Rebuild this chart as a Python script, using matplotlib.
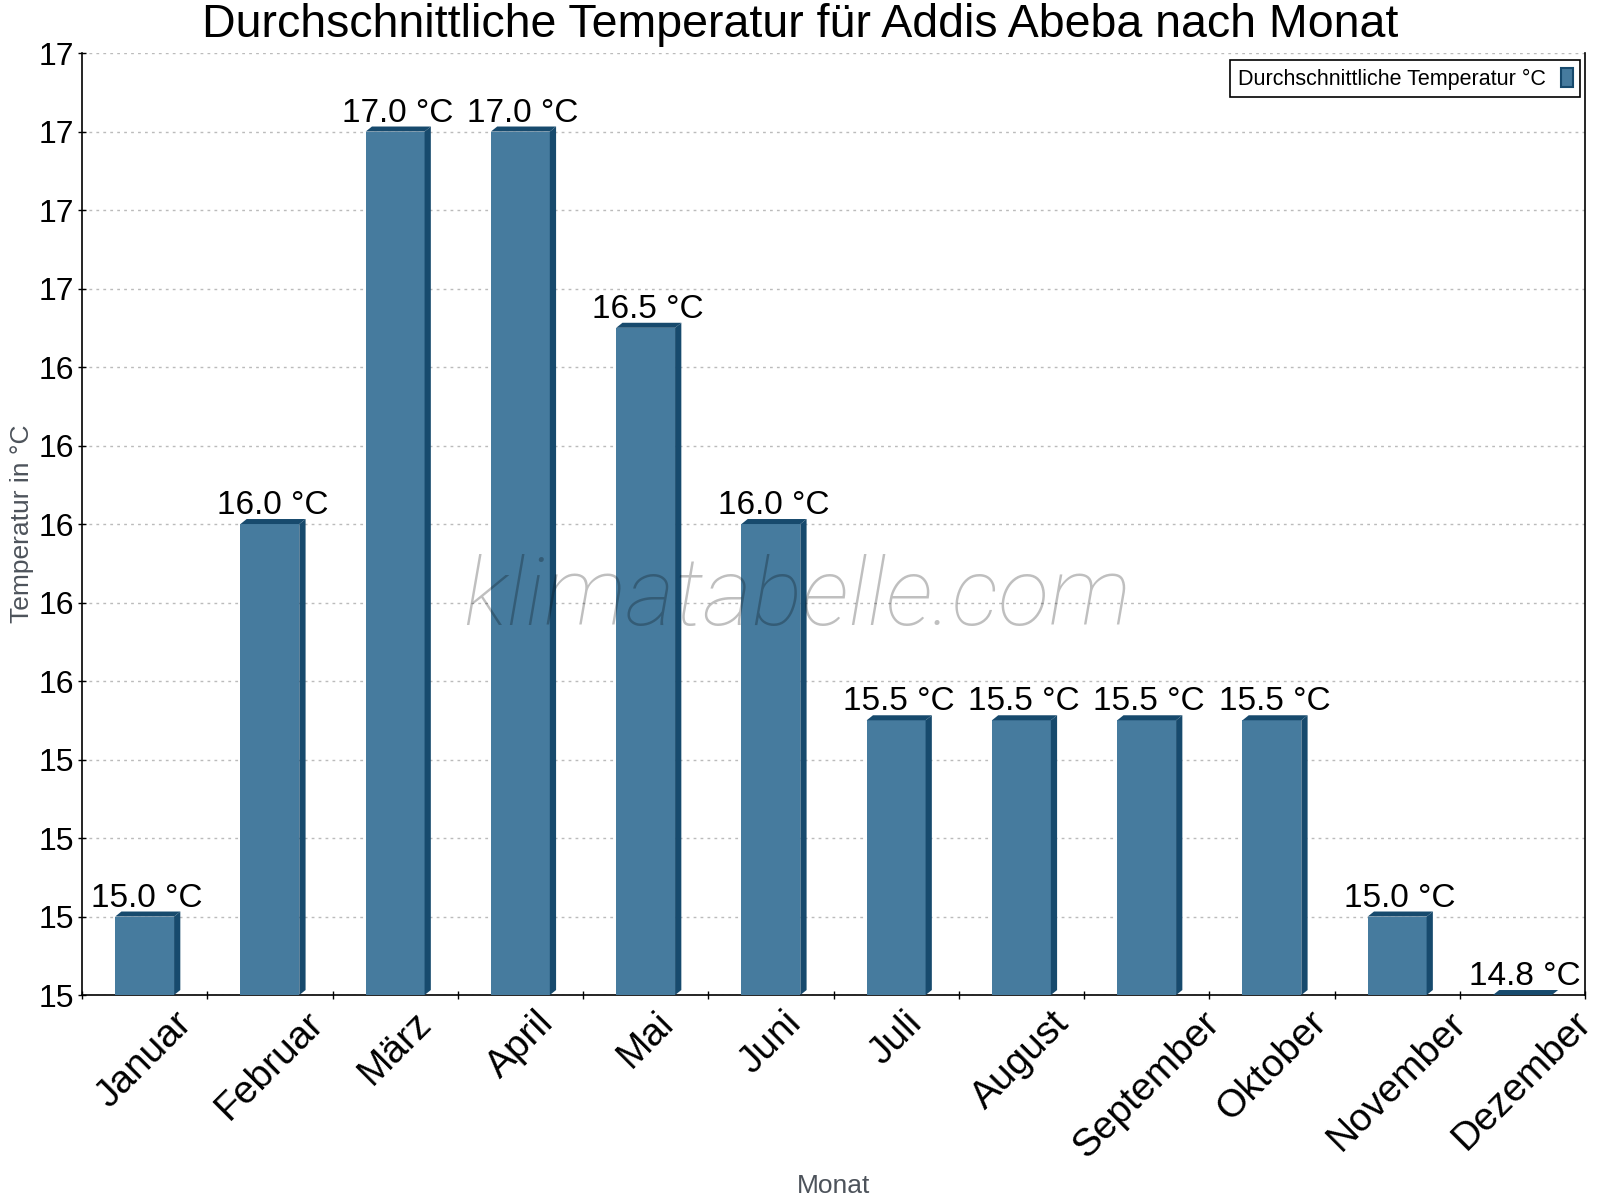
import numpy as np
import matplotlib
matplotlib.use("Agg")
import matplotlib.pyplot as plt
from matplotlib.patches import Polygon, Patch
from matplotlib.ticker import FuncFormatter

plt.rcParams["font.family"] = ["Liberation Sans", "DejaVu Sans"]

# ── Data ─────────────────────────────────────────────────────────────────────
months = ["Januar", "Februar", "März", "April", "Mai", "Juni", "Juli",
          "August", "September", "Oktober", "November", "Dezember"]
temps = [15.0, 16.0, 17.0, 17.0, 16.5, 16.0, 15.5, 15.5, 15.5, 15.5, 15.0, 14.8]

TITLE = "Durchschnittliche Temperatur für Addis Abeba nach Monat"
SERIES = "Durchschnittliche Temperatur °C"
Y_MIN, Y_MAX, Y_STEP = 14.8, 17.2, 0.2

FACE = "#467B9E"
DARK = "#174A6D"
BAR_W = 0.47
DX, DY = 0.05, 0.0128      # 3d depth in data units


# ── Figure ───────────────────────────────────────────────────────────────────
fig = plt.figure(figsize=(16, 12), dpi=100)
ax = fig.add_axes([0.05125, 0.1708, 0.9394, 0.785])

x = np.arange(len(months))
vals = np.array(temps)

ax.bar(x, vals - Y_MIN, bottom=Y_MIN, width=BAR_W, color=FACE,
       zorder=3, linewidth=0)

# fake 3d: dark top and right side on every bar
for xi, v in zip(x, vals):
    xl, xr = xi - BAR_W / 2, xi + BAR_W / 2
    top = Polygon([(xl, v), (xl + DX, v + DY), (xr + DX, v + DY), (xr, v)],
                  closed=True, facecolor=DARK, edgecolor="none", zorder=3)
    ax.add_patch(top)
    if v > Y_MIN:
        side = Polygon([(xr, v), (xr + DX, v + DY), (xr + DX, Y_MIN + DY), (xr, Y_MIN)],
                       closed=True, facecolor=DARK, edgecolor="none", zorder=3)
        ax.add_patch(side)
    ax.annotate(f"{v:.1f} °C", xy=(xi + 0.02, v + DY), xytext=(0, 3.6),
                textcoords="offset points", ha="center", va="baseline",
                fontsize=24, color="black", zorder=5)

ax.set_xlim(-0.5, len(months) - 0.5)
ax.set_ylim(Y_MIN, Y_MAX)

# y axis
ax.set_yticks(np.arange(Y_MIN, Y_MAX + 0.01, Y_STEP))
ax.yaxis.set_major_formatter(FuncFormatter(lambda v, _: f"{v:.0f}"))
ax.tick_params(axis="y", labelsize=23, direction="inout", length=6, width=1, pad=3)
ax.grid(axis="y", color="#bbbbbb", linestyle=(0, (2, 3)), linewidth=1, zorder=0)

# x axis: labels at centres, tick marks at boundaries
ax.set_xticks(x)
ax.set_xticklabels(months, rotation=45, ha="center", va="top", fontsize=28)
ax.tick_params(axis="x", which="major", length=0, pad=7)
ax.set_xticks(np.arange(-0.5, len(months)), minor=True)
ax.tick_params(axis="x", which="minor", direction="inout", length=6, width=1)

for s in ["left", "bottom", "right"]:
    ax.spines[s].set_linewidth(1.2)
    ax.spines[s].set_color("black")
ax.spines["top"].set_visible(False)

ax.set_ylabel("Temperatur in °C", fontsize=19, color="#4d535b")
ax.yaxis.set_label_coords(-0.032, 0.5)
ax.set_xlabel("Monat", fontsize=19, color="#4d535b")
ax.xaxis.set_label_coords(0.5, -0.19)

fig.text(0.5, 1 - 37 / 1200, TITLE, ha="center", va="baseline", fontsize=33.5)

# watermark
ax.text(0.476, 0.42, "klimatabelle.com", transform=ax.transAxes,
        ha="center", va="center", fontsize=68, style="italic",
        family=["Roboto", "Liberation Sans"], fontweight="light",
        color="black", alpha=0.25, zorder=4)

handle = Patch(facecolor=FACE, edgecolor=DARK, linewidth=1.5)
leg = ax.legend([handle], [SERIES], loc="upper right",
                bbox_to_anchor=(1 - 5 / 1503, 1 - 7 / 942), borderaxespad=0,
                fontsize=15.5, markerfirst=False, fancybox=False,
                edgecolor="black", framealpha=1, handlelength=0.55,
                handleheight=1.0, handletextpad=0.7, borderpad=0.35)
leg.get_frame().set_linewidth(1.2)

fig.savefig("out.png", dpi=100)
